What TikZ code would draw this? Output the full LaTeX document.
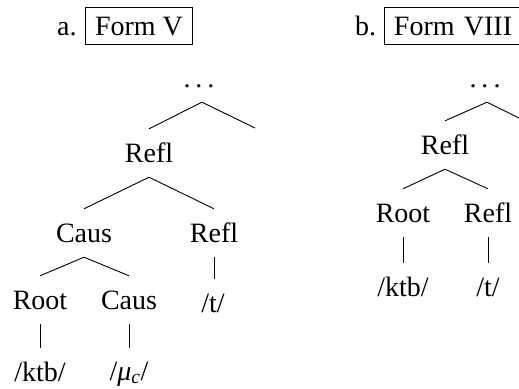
\documentclass[tikz,border=0pt]{standalone}
\usepackage{fontspec}
\setmainfont{Liberation Serif}
\begin{document}
\begin{tikzpicture}[x=1pt,y=-1pt,
  lbl/.style={font=\fontsize{28}{32}\selectfont, inner sep=0pt, text height=33pt, text depth=15pt, anchor=base},
  leaf/.style={lbl, text depth=5pt},
  plain/.style={font=\fontsize{28}{32}\selectfont, inner sep=0pt, anchor=base west},
  formbox/.style={font=\fontsize{28}{32}\selectfont, draw, line width=0.9pt, text height=19pt, text depth=0pt, inner xsep=9.5pt, inner ysep=9pt},
  edge/.style={line width=0.9pt}]
\newcommand{\mydots}{.\kern5pt.\kern5pt.}
\useasboundingbox (0,0) rectangle (519,388);
\clip (0,0) rectangle (519,388);
% headers
\node[plain] (la) at (57,35) {a.};
\node[formbox, anchor=base] (fa) at (139,35) {Form V};
\node[plain] (lb) at (355,35) {b.};
\node[formbox, anchor=base west, text width=150pt, align=left] (fb) at (384,35) {Form VIII};
% tree a
\node[lbl] (aTop) at (199,87) {\mydots};
\coordinate (aTopR) at (255,128);
\node[lbl] (aRefl) at (149,162) {Refl};
\node[lbl] (aCaus) at (84,242) {Caus};
\node[lbl] (aReflR) at (214,242) {Refl};
\node[lbl] (aRoot) at (40,309) {Root};
\node[lbl] (aCaus2) at (129,309) {Caus};
\node[leaf] (aT) at (213,312) {/t/};
\node[leaf] (aKtb) at (40,381) {/ktb/};
\node[leaf] (aMu) at (129,380) {/{\itshape μ\textsubscript{c}}/};
\coordinate (aTopB) at ([xshift=3pt]aTop.south);
\draw[edge] (aTopB) -- (aRefl.north);
\draw[edge] (aTopB) -- (aTopR);
\draw[edge] (aRefl.south) -- (aCaus.north);
\draw[edge] (aRefl.south) -- (aReflR.north);
\draw[edge] (aCaus.south) -- (aRoot.north);
\draw[edge] (aCaus.south) -- (aCaus2.north);
\draw[edge] (aReflR.south) -- (aReflR.south |- aT.north);
\draw[edge] (aRoot.south) -- (aKtb.north);
\draw[edge] (aCaus2.south) -- (aCaus2.south |- aKtb.north);
% tree b
\node[lbl] (bTop) at (485,87) {\mydots};
\coordinate (bTopR) at (529,123);
\node[lbl] (bRefl) at (445,154) {Refl};
\node[lbl] (bRoot) at (403,222) {Root};
\node[lbl] (bReflR) at (488,222) {Refl};
\node[leaf] (bKtb) at (403,296) {/ktb/};
\node[leaf] (bT) at (488,296) {/t/};
\coordinate (bTopB) at ([xshift=2pt]bTop.south);
\draw[edge] (bTopB) -- (bRefl.north);
\draw[edge] (bTopB) -- (bTopR);
\draw[edge] (bRefl.south) -- (bRoot.north);
\draw[edge] (bRefl.south) -- (bReflR.north);
\draw[edge] (bRoot.south) -- (bKtb.north);
\draw[edge] (bReflR.south) -- (bT.north);
\end{tikzpicture}
\end{document}
